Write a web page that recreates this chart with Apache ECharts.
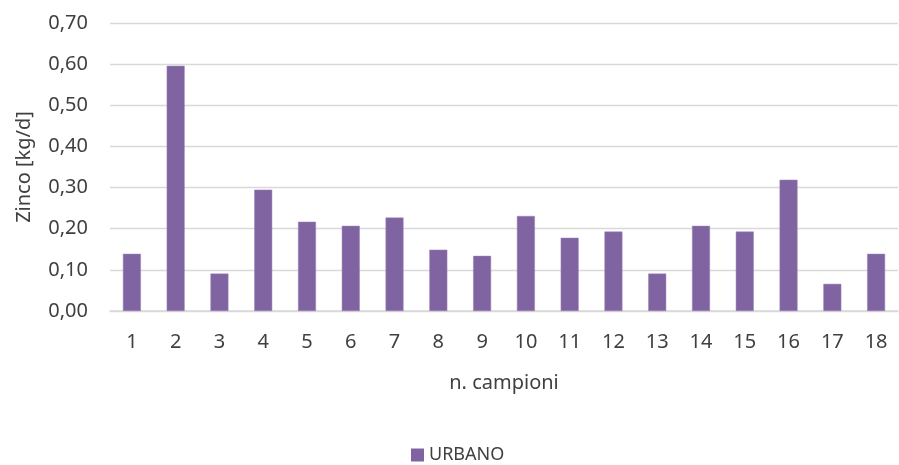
<!DOCTYPE html>
<html>
<head>
<meta charset="utf-8">
<script src="https://cdn.jsdelivr.net/npm/echarts@6/dist/echarts.min.js"></script>
<style>
  html, body { margin: 0; padding: 0; background: #fff; }
  #chart { width: 899px; height: 465px; }
</style>
</head>
<body>
<div id="chart"></div>
<script>
// campioni 1..18
var categories = ['1', '2', '3', '4', '5', '6', '7', '8', '9', '10', '11', '12', '13', '14', '15', '16', '17', '18'];
// Zinco [kg/d], serie URBANO
var urbano = [0.139, 0.596, 0.091, 0.295, 0.217, 0.207, 0.227, 0.149, 0.134, 0.231, 0.178, 0.193, 0.091, 0.207, 0.193, 0.319, 0.066, 0.139];
var seriesName = 'URBANO';

var textColor = '#404040';
var fontFamily = 'Noto Sans';

var chart = echarts.init(document.getElementById('chart'));
var option = {
  animation: false,
  textStyle: { fontFamily: fontFamily, color: textColor },
  grid: { left: 110, right: 1, top: 23, bottom: 154 },
  legend: {
    data: [seriesName],
    left: 406,
    top: 441,
    itemWidth: 13,
    itemHeight: 13,
    itemGap: 6,
    icon: 'rect',
    itemStyle: { borderWidth: 0 },
    textStyle: { fontSize: 18, color: textColor, fontFamily: fontFamily }
  },
  xAxis: {
    type: 'category',
    data: categories,
    name: 'n. campioni',
    nameLocation: 'middle',
    nameGap: 62,
    nameTextStyle: { fontSize: 20, color: textColor },
    axisLine: { lineStyle: { color: '#d9d9d9', width: 1.5 } },
    axisTick: { show: false },
    axisLabel: { fontSize: 20, color: textColor, margin: 21 }
  },
  yAxis: {
    type: 'value',
    min: 0,
    max: 0.7,
    interval: 0.1,
    name: 'Zinco [kg/d]',
    nameLocation: 'middle',
    nameGap: 76,
    nameTextStyle: { fontSize: 20, color: textColor },
    axisLine: { show: false },
    axisTick: { show: false },
    splitLine: { lineStyle: { color: '#d9d9d9', width: 1.3 } },
    axisLabel: {
      fontSize: 20,
      color: textColor,
      margin: 22,
      formatter: function (v) { return v.toFixed(2).replace('.', ','); }
    }
  },
  series: [{
    name: seriesName,
    type: 'bar',
    data: urbano,
    barWidth: '41%',
    itemStyle: { color: '#8064a2', borderColor: '#9a83b6', borderWidth: 0.5 }
  }]
};
chart.setOption(option);
</script>
</body>
</html>
